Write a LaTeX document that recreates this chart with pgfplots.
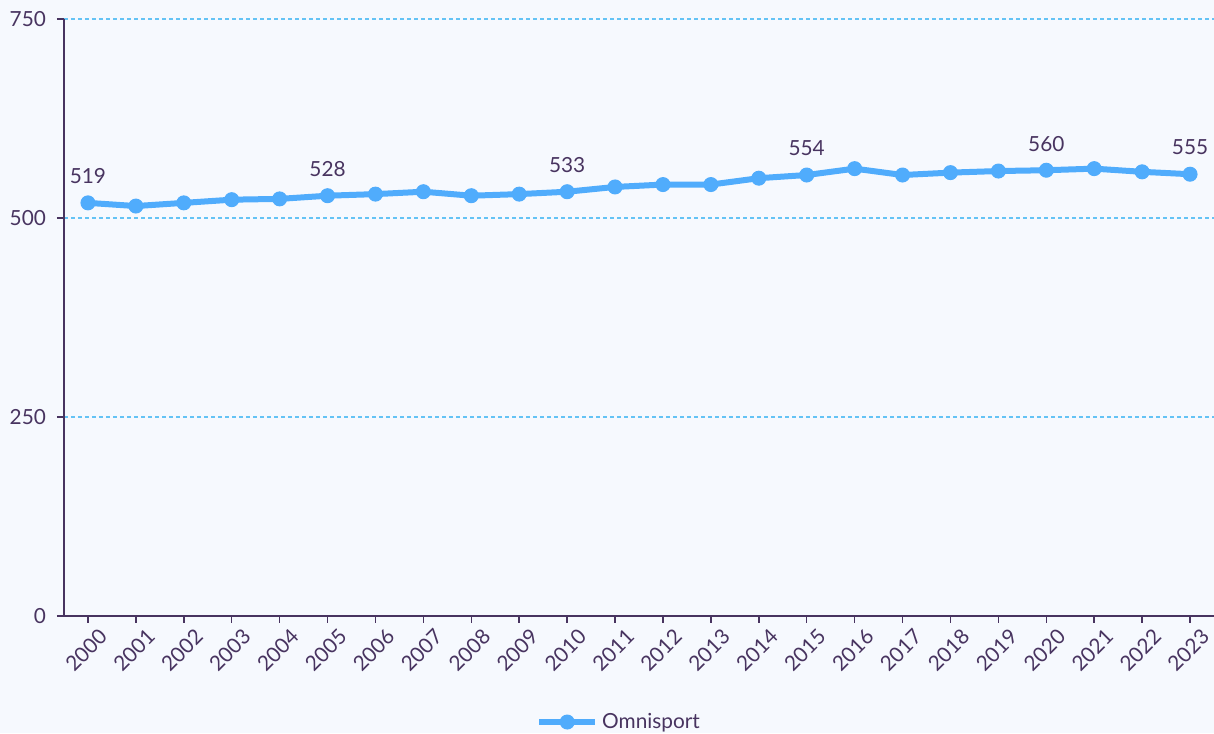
\documentclass[border=0pt]{standalone}
\usepackage{fontspec}
\setmainfont{Lato}
\usepackage{pgfplots}
\pgfplotsset{compat=1.18}
\definecolor{bg}{RGB}{246,249,254}
\definecolor{txt}{RGB}{72,52,96}
\definecolor{ln}{RGB}{80,172,252}
\definecolor{gridc}{RGB}{100,195,245}
\begin{document}
\begin{tikzpicture}
\fill[bg] (0,0) rectangle (607pt,366.5pt);
\begin{axis}[
  at={(32pt,58.5pt)}, anchor=south west,
  scale only axis, width=575pt, height=298.5pt,
  xmin=-0.5, xmax=23.5, ymin=0, ymax=750,
  axis x line*=bottom, axis y line*=left,
  axis line style={txt, line width=0.75pt, -},
  xtick={0,...,23},
  xticklabels={2000,2001,2002,2003,2004,2005,2006,2007,2008,2009,2010,2011,2012,2013,2014,2015,2016,2017,2018,2019,2020,2021,2022,2023},
  ytick={0,250,500,750},
  tick style={txt, line width=0.75pt},
  tick align=outside, major tick length=3.5pt,
  ymajorgrids, grid style={gridc, line width=0.6pt, dash pattern=on 2pt off 1.5pt},
  /pgf/number format/assume math mode=true,
  ticklabel style={font=\fontsize{10.4}{12}\selectfont, text=txt},
  xticklabel style={rotate=45, anchor=north east, inner sep=1pt, yshift=-4pt, xshift=3pt},
  yticklabel style={xshift=-2pt},
  legend style={at={(0.4835,-0.1776)}, anchor=center, draw=none, fill=none,
    font=\fontsize{10.4}{12}\selectfont, text=txt, inner sep=0pt},
  legend image code/.code={\draw[#1, mark repeat=2, mark phase=2] plot coordinates {(0pt,0pt) (14pt,0pt) (28pt,0pt)};},
  legend cell align=left,
  every axis legend/.append style={/tikz/every even column/.append style={column sep=0pt}},
]
\addplot[ln, line width=3pt, mark=*, mark size=3.5pt, mark options={solid, fill=ln, draw=ln, line width=0.5pt}] coordinates {
(0,519)(1,515)(2,519)(3,523)(4,524)(5,528)(6,530)(7,533)(8,528)(9,530)(10,533)(11,539)
(12,542)(13,542)(14,550)(15,554)(16,562)(17,554)(18,557)(19,559)(20,560)(21,562)(22,558)(23,555)};
\addlegendentry{Omnisport}
\addplot[draw=none, mark=none, forget plot, nodes near coords,
  every node near coord/.append style={anchor=south, yshift=6pt, font=\fontsize{10.4}{12}\selectfont, text=txt}]
coordinates {(0,519)(5,528)(10,533)(15,554)(20,560)(23,555)};
\end{axis}
\pgfresetboundingbox
\path (0,0) rectangle (607pt,366.5pt);
\end{tikzpicture}
\end{document}
